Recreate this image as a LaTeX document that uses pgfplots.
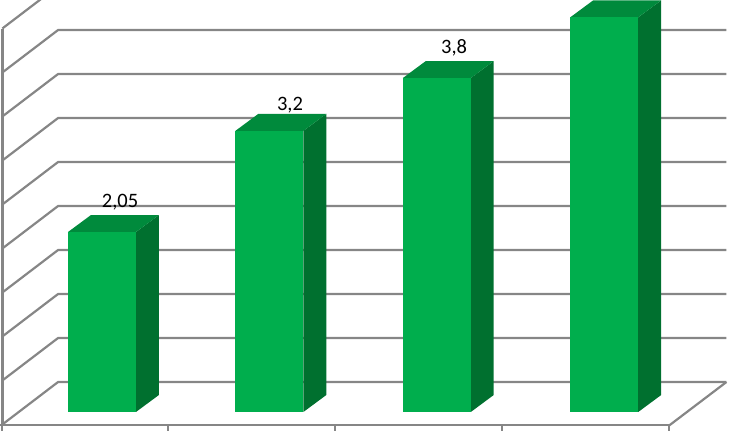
\documentclass[border=0pt]{standalone}
\usepackage{pgfplots}
\pgfplotsset{compat=1.18}
\usepackage{fontspec}
\setmainfont{Carlito}
\definecolor{gridc}{HTML}{868686}
\definecolor{frontc}{HTML}{00AE4D}
\definecolor{sidec}{HTML}{00702F}
\definecolor{topc}{HTML}{008A3C}
\newcommand{\Bar}[2]{%
  \addplot[draw=none,fill=sidec] coordinates {({#1+0.203},0) ({#1+0.340},0.193) ({#1+0.340},{#2+0.193}) ({#1+0.203},#2)} --cycle;
  \addplot[draw=none,fill=topc] coordinates {({#1-0.203},#2) ({#1-0.066},{#2+0.193}) ({#1+0.340},{#2+0.193}) ({#1+0.203},#2)} --cycle;
  \addplot[ybar,bar width=68pt,draw=none,fill=frontc] coordinates {(#1,#2)};
}
\begin{document}
\begin{tikzpicture}
\begin{axis}[
  scale only axis,width=733pt,height=431pt,
  xmin=-0.609,xmax=3.769,ymin=-0.216,ymax=4.682,
  axis line style={draw=none},ticks=none,clip=true,
  grid line/.style={draw=gridc,line width=2.2pt,line join=miter}]
% gridlines: left wall front edge, back corner, right end
\addplot[grid line] coordinates {(-0.595,-0.142)(-0.262,0.341)(3.73,0.341)};
\addplot[grid line] coordinates {(-0.595,0.358)(-0.262,0.841)(3.73,0.841)};
\addplot[grid line] coordinates {(-0.595,0.858)(-0.262,1.341)(3.73,1.341)};
\addplot[grid line] coordinates {(-0.595,1.358)(-0.262,1.841)(3.73,1.841)};
\addplot[grid line] coordinates {(-0.595,1.858)(-0.262,2.341)(3.73,2.341)};
\addplot[grid line] coordinates {(-0.595,2.358)(-0.262,2.841)(3.73,2.841)};
\addplot[grid line] coordinates {(-0.595,2.858)(-0.262,3.341)(3.73,3.341)};
\addplot[grid line] coordinates {(-0.595,3.358)(-0.262,3.841)(3.73,3.841)};
\addplot[grid line] coordinates {(-0.595,3.858)(-0.262,4.341)(3.73,4.341)};
\addplot[grid line] coordinates {(-0.595,4.358)(-0.262,4.841)(3.73,4.841)};
% left wall edge
\addplot[draw=gridc,line width=3pt] coordinates {(-0.595,-0.150)(-0.595,4.358)};
% floor: front edge and right side
\addplot[draw=gridc,line width=2.6pt] coordinates {(-0.609,-0.150)(3.39,-0.150)};
\addplot[draw=gridc,line width=2.2pt] coordinates {(3.39,-0.150)(3.73,0.341)};
% category ticks
\addplot[draw=gridc,line width=1.5pt] coordinates {(-0.597,-0.150)(-0.597,-0.216)};
\addplot[draw=gridc,line width=1.5pt] coordinates {(0.394,-0.150)(0.394,-0.216)};
\addplot[draw=gridc,line width=1.5pt] coordinates {(1.392,-0.150)(1.392,-0.216)};
\addplot[draw=gridc,line width=1.5pt] coordinates {(2.389,-0.150)(2.389,-0.216)};
\addplot[draw=gridc,line width=1.5pt] coordinates {(3.387,-0.150)(3.387,-0.216)};
% bars
\Bar{0}{2.045}
\Bar{1}{3.195}
\Bar{2}{3.795}
\Bar{3}{4.485}
% labels
\node[font=\fontsize{20.5}{20}\selectfont] at (axis cs:0.108,2.386) {2,05};
\node[font=\fontsize{20.5}{20}\selectfont] at (axis cs:1.123,3.489) {3,2};
\node[font=\fontsize{20.5}{20}\selectfont] at (axis cs:2.103,4.136) {3,8};
\end{axis}
\end{tikzpicture}
\end{document}
